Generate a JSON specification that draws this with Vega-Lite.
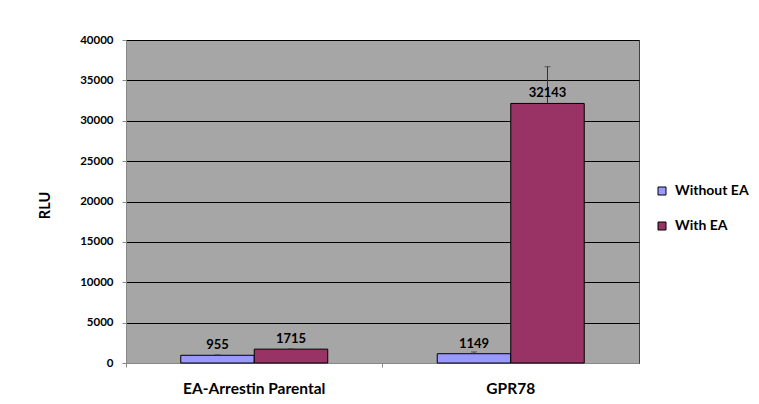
{
  "$schema": "https://vega.github.io/schema/vega-lite/v6.json",
  "width": 513,
  "height": 323,
  "autosize": {"type": "none"},
  "padding": {"left": 126, "top": 40, "right": 120, "bottom": 41},
  "background": "white",
  "config": {
    "font": "Lato",
    "view": {"fill": "#a6a6a6", "stroke": "#404040", "strokeWidth": 1}
  },
  "data": {
    "values": [
      {"group": "EA-Arrestin Parental", "condition": "Without EA", "value": 955, "hi": 1005},
      {"group": "EA-Arrestin Parental", "condition": "With EA", "value": 1715, "hi": 1745},
      {"group": "GPR78", "condition": "Without EA", "value": 1149, "hi": 1370},
      {"group": "GPR78", "condition": "With EA", "value": 32143, "hi": 36693}
    ]
  },
  "encoding": {
    "x": {
      "field": "group", "type": "nominal", "sort": null,
      "scale": {"paddingInner": 0, "paddingOuter": 0},
      "axis": {
        "title": null, "labelAngle": 0, "labelFontSize": 15.5, "labelFontWeight": "bold",
        "labelColor": "black", "labelPadding": 14, "ticks": true, "tickSize": 4,
        "tickColor": "#888888", "bandPosition": 0, "domainColor": "#888888", "grid": false
      }
    },
    "xOffset": {
      "field": "condition", "type": "nominal", "sort": ["Without EA", "With EA"],
      "scale": {"paddingInner": 0, "paddingOuter": 0.745}
    }
  },
  "layer": [
    {
      "mark": {"type": "bar", "stroke": "black", "strokeWidth": 1},
      "encoding": {
        "y": {
          "field": "value", "type": "quantitative",
          "scale": {"domain": [0, 40000], "nice": false},
          "axis": {
            "title": "RLU", "titleFontSize": 14.5, "titleFontWeight": "bold", "titleColor": "black",
            "titleAngle": -90, "titleX": -81, "titleY": 165, "titleBaseline": "middle", "titleAlign": "center",
            "values": [0, 5000, 10000, 15000, 20000, 25000, 30000, 35000, 40000],
            "format": "d",
            "labelFontSize": 11.5, "labelFontWeight": "bold", "labelColor": "black",
            "tickSize": 4, "tickColor": "#888888", "labelPadding": 9,
            "domainColor": "#888888",
            "grid": true, "gridColor": "black", "gridWidth": 1, "gridOpacity": 1
          }
        },
        "color": {
          "field": "condition", "type": "nominal", "sort": ["Without EA", "With EA"],
          "scale": {"domain": ["Without EA", "With EA"], "range": ["#9999ff", "#993366"]},
          "legend": {
            "title": null, "orient": "none", "legendX": 529, "legendY": 144,
            "symbolType": "square", "symbolSize": 64, "symbolStrokeColor": "black",
            "symbolStrokeWidth": 1, "labelFontSize": 14, "labelFontWeight": "bold",
            "labelColor": "black", "rowPadding": 21, "labelOffset": 6
          }
        }
      }
    },
    {
      "mark": {"type": "rule", "color": "#333333", "strokeWidth": 1},
      "encoding": {
        "y": {"field": "value", "type": "quantitative"},
        "y2": {"field": "hi"}
      }
    },
    {
      "mark": {"type": "tick", "color": "#333333", "thickness": 1, "size": 6, "orient": "horizontal"},
      "encoding": {
        "y": {"field": "hi", "type": "quantitative"}
      }
    },
    {
      "mark": {"type": "text", "baseline": "alphabetic", "dy": -6, "fontSize": 13, "fontWeight": "bold", "color": "black"},
      "encoding": {
        "y": {"field": "value", "type": "quantitative"},
        "text": {"field": "value", "type": "quantitative", "format": "d"}
      }
    }
  ]
}
